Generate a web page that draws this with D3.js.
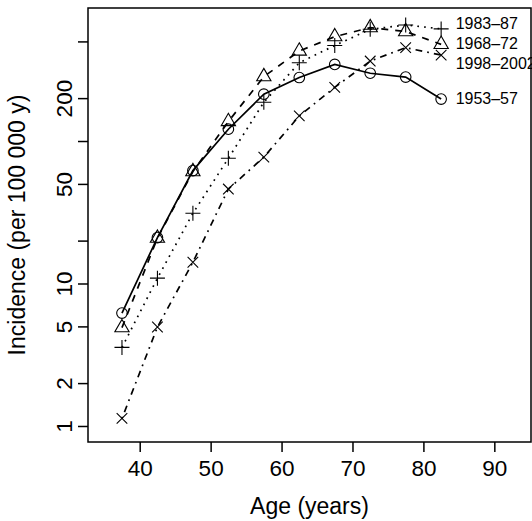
<!DOCTYPE html>
<html>
<head>
<meta charset="utf-8">
<script src="https://cdn.jsdelivr.net/npm/d3@7/dist/d3.min.js"></script>
<style>
  html, body { margin: 0; padding: 0; background: #fff; }
  svg { display: block; }
  text { font-family: "Liberation Sans", Arial, Helvetica, sans-serif; fill: #000; }
</style>
</head>
<body>
<svg id="chart" width="532" height="521"></svg>
<script>
// ---- data ----
const ages = [37.5, 42.5, 47.5, 52.5, 57.5, 62.5, 67.5, 72.5, 77.5, 82.5];
const periods = ["1953–57", "1968–72", "1983–87", "1998–2002"];
const inc1953 = [6.2, 21, 62, 121, 213, 279, 345, 299, 281, 197];
const inc1968 = [4.9, 20.8, 61, 137, 283, 428, 540, 625, 586, 477];
const inc1983 = [3.56, 10.9, 31.1, 75.6, 187, 354, 468, 608, 652, 612];
const inc1998 = [1.13, 4.95, 14.1, 46, 77, 150, 238, 364, 452, 401];
const labelValues = [199, 485, 670, 351];
const xTicks = [40, 50, 60, 70, 80, 90];
const yTicks = [1, 2, 5, 10, 20, 50, 100, 200, 500];
const yTickLabels = ["1", "2", "5", "10", "", "50", "", "200", ""];
const xTitle = "Age (years)";
const yTitle = "Incidence (per 100 000 y)";

const seriesValues = [inc1953, inc1968, inc1983, inc1998];
const symbols = ["circle", "triangle", "plus", "cross"];
const dashes = [null, "7,7", "1.7,5.1", "1.7,5.1,6.8,5.1"];

// ---- layout ----
const svg = d3.select("#chart");
const box = { left: 88, right: 531, top: 8, bottom: 442 };
const x = d3.scaleLinear().domain([32.71, 95.17]).range([box.left, box.right]);
const y = d3.scaleLog().domain([0.772, 858]).range([box.bottom, box.top]);

const axisFont = 22.5;
const titleFont = 23;

// box
svg.append("rect")
  .attr("x", box.left).attr("y", box.top)
  .attr("width", box.right - box.left).attr("height", box.bottom - box.top)
  .attr("fill", "none").attr("stroke", "#000").attr("stroke-width", 1.5);

// x axis
const xAxis = d3.axisBottom(x).tickValues(xTicks).tickSize(10).tickPadding(8).tickFormat(d3.format("d"));
const gx = svg.append("g").attr("transform", `translate(0,${box.bottom})`).call(xAxis);
gx.select(".domain").remove();
gx.selectAll(".tick line").attr("stroke", "#000").attr("stroke-width", 1.5);
gx.selectAll(".tick text").style("font-size", axisFont + "px").attr("font-family", "Liberation Sans, Arial, sans-serif");

// y axis
const yAxis = d3.axisLeft(y).tickValues(yTicks).tickSize(10).tickPadding(6)
  .tickFormat((d, i) => yTickLabels[i]);
const gy = svg.append("g").attr("transform", `translate(${box.left},0)`).call(yAxis);
gy.select(".domain").remove();
gy.selectAll(".tick line").attr("stroke", "#000").attr("stroke-width", 1.5);
gy.selectAll(".tick text")
  .style("font-size", axisFont + "px")
  .attr("font-family", "Liberation Sans, Arial, sans-serif")
  .attr("x", null).attr("dy", null)
  .attr("text-anchor", "middle")
  .attr("transform", "translate(-16,0) rotate(-90)");

// titles
svg.append("text")
  .attr("x", (box.left + box.right) / 2).attr("y", 514)
  .attr("text-anchor", "middle").style("font-size", titleFont + "px")
  .text(xTitle);
svg.append("text")
  .attr("transform", `translate(25,${(box.top + box.bottom) / 2}) rotate(-90)`)
  .attr("text-anchor", "middle").style("font-size", titleFont + "px")
  .text(yTitle);

// series
const s = 5.3;
const line = d3.line().x((d, i) => x(ages[i])).y(d => y(d));
seriesValues.forEach((vals, k) => {
  svg.append("path")
    .attr("d", line(vals))
    .attr("fill", "none").attr("stroke", "#000").attr("stroke-width", 1.7)
    .attr("stroke-dasharray", dashes[k]);
  const g = svg.append("g");
  vals.forEach((v, i) => {
    const cx = x(ages[i]), cy = y(v);
    let p;
    if (symbols[k] === "circle") {
      p = g.append("circle").attr("cx", cx).attr("cy", cy).attr("r", s);
    } else if (symbols[k] === "triangle") {
      const r = 1.5551 * s, yc = 0.7776 * s, xc = 1.3468 * s;
      p = g.append("path").attr("d", `M${cx},${cy - r}L${cx + xc},${cy + yc}L${cx - xc},${cy + yc}Z`);
    } else if (symbols[k] === "plus") {
      const h = Math.SQRT2 * s;
      p = g.append("path").attr("d", `M${cx - h},${cy}H${cx + h}M${cx},${cy - h}V${cy + h}`);
    } else {
      p = g.append("path").attr("d", `M${cx - s},${cy - s}L${cx + s},${cy + s}M${cx - s},${cy + s}L${cx + s},${cy - s}`);
    }
    p.attr("fill", "none").attr("stroke", "#000").attr("stroke-width", 1.1);
  });
  svg.append("text")
    .attr("x", x(ages[ages.length - 1]) + 14.5)
    .attr("y", y(labelValues[k]))
    .attr("dy", "0.36em")
    .style("font-size", "16px")
    .text(periods[k]);
});
</script>
</body>
</html>
